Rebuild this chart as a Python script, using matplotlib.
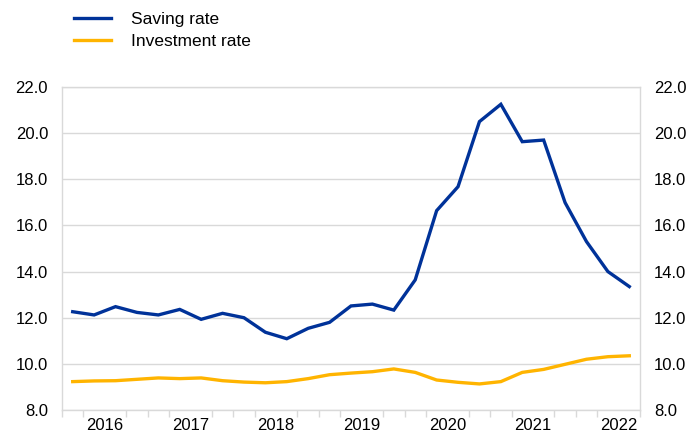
import matplotlib
matplotlib.use("Agg")
import matplotlib.pyplot as plt
import numpy as np

plt.rcParams['font.family'] = ['Liberation Sans', 'DejaVu Sans']

years = ["2016", "2017", "2018", "2019", "2020", "2021", "2022"]
quarters = [f"{y}Q{q}" for y in range(2016, 2023) for q in range(1, 5)][:27]

saving_rate = [12.26, 12.12, 12.48, 12.23, 12.12, 12.36, 11.93, 12.19, 12.00,
               11.37, 11.09, 11.54, 11.80, 12.51, 12.59, 12.33, 13.64, 16.64,
               17.68, 20.50, 21.25, 19.63, 19.70, 16.99, 15.30, 14.00, 13.35]
investment_rate = [9.23, 9.26, 9.27, 9.33, 9.39, 9.36, 9.39, 9.27, 9.21,
                   9.18, 9.23, 9.36, 9.53, 9.60, 9.66, 9.78, 9.63, 9.30,
                   9.20, 9.13, 9.23, 9.63, 9.76, 9.98, 10.20, 10.31, 10.35]

blue = "#003299"
yellow = "#FFB400"
grid = "#d9d9d9"

fig = plt.figure(figsize=(6.87, 4.34), dpi=100)
ax = fig.add_axes([62/687, 1-410/434, (640-62)/687, (410-87)/434])

x = np.arange(len(quarters))
ax.plot(x, saving_rate, color=blue, lw=2.4, label="Saving rate", solid_joinstyle='miter')
ax.plot(x, investment_rate, color=yellow, lw=2.4, label="Investment rate", solid_joinstyle='miter')

ax.set_xlim(-0.5, len(quarters) - 0.5)
ax.set_ylim(8, 22)
yt = np.arange(8, 22.1, 2)
ax.set_yticks(yt)
ax.set_yticklabels([f"{v:.1f}" for v in yt])
ax.tick_params(axis='y', length=0, labelsize=12, pad=10, labelright=True, right=False)
ax.yaxis.grid(True, color=grid, lw=1)
ax.set_axisbelow(True)

# minor ticks at quarter boundaries, year labels at mid-year
ax.set_xticks(np.arange(-0.5, len(quarters), 1), minor=True)
ax.set_xticks([1.5 + 4*i for i in range(len(years))])
ax.set_xticklabels(years)
ax.tick_params(axis='x', which='major', length=0, labelsize=12, pad=6)
ax.tick_params(axis='x', which='minor', length=5, color=grid, width=1)

for s in ax.spines.values():
    s.set_color(grid)
    s.set_linewidth(1)

fig.legend(loc='upper left', bbox_to_anchor=(62/687, 1.0), frameon=False,
           fontsize=12.5, handlelength=2.1, handletextpad=1.15, labelspacing=0.4,
           borderaxespad=0.3)

fig.savefig("out.png", dpi=100)
